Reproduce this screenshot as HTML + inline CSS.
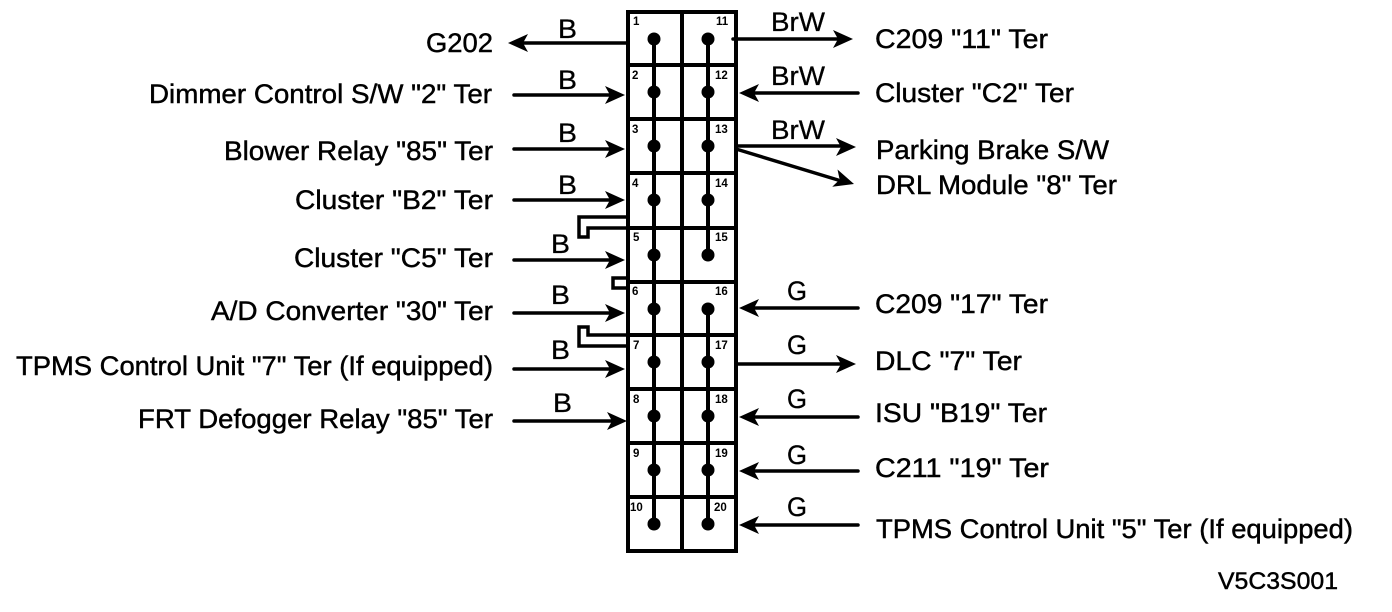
<!DOCTYPE html>
<html><head><meta charset="utf-8"><style>
html,body{margin:0;padding:0;background:#fff;width:1392px;height:612px;overflow:hidden}
svg{display:block}
text{font-family:"Liberation Sans",sans-serif;fill:#000}
.l{font-size:27px;stroke:#000;stroke-width:.45px}
.n{font-size:11.5px;font-weight:bold}
.c{font-size:27px;stroke:#000;stroke-width:.3px}
</style></head><body>
<svg width="1392" height="612" viewBox="0 0 1392 612" xmlns="http://www.w3.org/2000/svg">
<defs>
<path id="ar" d="M0 0L-20 -9L-15 0L-20 9Z" fill="#000"/>
</defs>
<g stroke="#000" fill="none">
<rect x="628" y="12" width="108" height="539" stroke-width="4"/>
<path stroke-width="4" d="M682 12V553M628 65H736M628 119H736M628 173H736M628 228H736M628 282H736M628 335H736M628 389H736M628 443H736M628 497H736"/>
<path stroke-width="4" d="M654 39V524M708 39V255M708 309V524"/>
<path stroke-width="3.5" d="M627 217H579V237H588V228H627M627 278H613V288H627M627 346H579V327H588V335H627"/>
<g stroke-width="3.5" stroke-linecap="round">
<path d="M627 43H520M514 95H615M514 149H615M514 200H615M514 260H615M514 313H615M514 369H615M514 421H617"/>
<path d="M733 39H843M858 93H750M736 146H845M736 149L838 180M858 308H750M736 364H845M858 417H750M858 471H750M858 525H750"/>
</g>
</g>
<g fill="#000">
<circle cx="654" cy="39" r="6.5"/><circle cx="654" cy="92" r="6.5"/><circle cx="654" cy="146" r="6.5"/><circle cx="654" cy="200" r="6.5"/><circle cx="654" cy="255" r="6.5"/><circle cx="654" cy="309" r="6.5"/><circle cx="654" cy="362" r="6.5"/><circle cx="654" cy="416" r="6.5"/><circle cx="654" cy="470" r="6.5"/><circle cx="654" cy="524" r="6.5"/>
<circle cx="708" cy="39" r="6.5"/><circle cx="708" cy="92" r="6.5"/><circle cx="708" cy="146" r="6.5"/><circle cx="708" cy="200" r="6.5"/><circle cx="708" cy="255" r="6.5"/><circle cx="708" cy="309" r="6.5"/><circle cx="708" cy="362" r="6.5"/><circle cx="708" cy="416" r="6.5"/><circle cx="708" cy="470" r="6.5"/><circle cx="708" cy="524" r="6.5"/>
</g>
<use href="#ar" transform="translate(508,43) rotate(180)"/>
<use href="#ar" transform="translate(625,95)"/>
<use href="#ar" transform="translate(625,149)"/>
<use href="#ar" transform="translate(625,200)"/>
<use href="#ar" transform="translate(625,260)"/>
<use href="#ar" transform="translate(625,313)"/>
<use href="#ar" transform="translate(625,369)"/>
<use href="#ar" transform="translate(627,421)"/>
<use href="#ar" transform="translate(853,39)"/>
<use href="#ar" transform="translate(739,93) rotate(180)"/>
<use href="#ar" transform="translate(856,147)"/>
<use href="#ar" transform="translate(854,184) rotate(17)"/>
<use href="#ar" transform="translate(739,308) rotate(180)"/>
<use href="#ar" transform="translate(856,364)"/>
<use href="#ar" transform="translate(739,417) rotate(180)"/>
<use href="#ar" transform="translate(739,471) rotate(180)"/>
<use href="#ar" transform="translate(739,525) rotate(180)"/>
<g class="n">
<text class="n" x="633" y="25">1</text><text class="n" x="632" y="79">2</text><text class="n" x="632" y="133">3</text><text class="n" x="632" y="187">4</text><text class="n" x="633" y="241">5</text><text class="n" x="632" y="295">6</text><text class="n" x="633" y="349">7</text><text class="n" x="633" y="403">8</text><text class="n" x="633" y="457">9</text><text class="n" x="630" y="511">10</text>
<text class="n" x="716" y="25">11</text><text class="n" x="715" y="79">12</text><text class="n" x="715" y="133">13</text><text class="n" x="715" y="187">14</text><text class="n" x="715" y="241">15</text><text class="n" x="715" y="295">16</text><text class="n" x="715" y="349">17</text><text class="n" x="715" y="403">18</text><text class="n" x="715" y="457">19</text><text class="n" x="714" y="511">20</text>
</g>
<g class="c">
<text class="c" x="558" y="38" textLength="19" lengthAdjust="spacingAndGlyphs">B</text>
<text class="c" x="558" y="89" textLength="19" lengthAdjust="spacingAndGlyphs">B</text>
<text class="c" x="558" y="142" textLength="19" lengthAdjust="spacingAndGlyphs">B</text>
<text class="c" x="558" y="194" textLength="19" lengthAdjust="spacingAndGlyphs">B</text>
<text class="c" x="551" y="253" textLength="19" lengthAdjust="spacingAndGlyphs">B</text>
<text class="c" x="551" y="304" textLength="19" lengthAdjust="spacingAndGlyphs">B</text>
<text class="c" x="551" y="359" textLength="19" lengthAdjust="spacingAndGlyphs">B</text>
<text class="c" x="553" y="412" textLength="19" lengthAdjust="spacingAndGlyphs">B</text>
<text class="c" x="771" y="31" textLength="54" lengthAdjust="spacingAndGlyphs">BrW</text>
<text class="c" x="771" y="85" textLength="54" lengthAdjust="spacingAndGlyphs">BrW</text>
<text class="c" x="771" y="139" textLength="54" lengthAdjust="spacingAndGlyphs">BrW</text>
<text class="c" x="787" y="300" textLength="20" lengthAdjust="spacingAndGlyphs">G</text>
<text class="c" x="787" y="354" textLength="20" lengthAdjust="spacingAndGlyphs">G</text>
<text class="c" x="787" y="408" textLength="20" lengthAdjust="spacingAndGlyphs">G</text>
<text class="c" x="787" y="464" textLength="20" lengthAdjust="spacingAndGlyphs">G</text>
<text class="c" x="787" y="516" textLength="20" lengthAdjust="spacingAndGlyphs">G</text>
</g>
<g class="l">
<text class="l" x="426" y="52" textLength="67" lengthAdjust="spacingAndGlyphs">G202</text>
<text class="l" x="149" y="103" textLength="343" lengthAdjust="spacingAndGlyphs">Dimmer Control S/W "2" Ter</text>
<text class="l" x="224" y="160" textLength="269" lengthAdjust="spacingAndGlyphs">Blower Relay "85" Ter</text>
<text class="l" x="295" y="209" textLength="198" lengthAdjust="spacingAndGlyphs">Cluster "B2" Ter</text>
<text class="l" x="294" y="267" textLength="199" lengthAdjust="spacingAndGlyphs">Cluster "C5" Ter</text>
<text class="l" x="211" y="320" textLength="282" lengthAdjust="spacingAndGlyphs">A/D Converter "30" Ter</text>
<text class="l" x="16" y="375" textLength="477" lengthAdjust="spacingAndGlyphs">TPMS Control Unit "7" Ter (If equipped)</text>
<text class="l" x="138" y="428" textLength="355" lengthAdjust="spacingAndGlyphs">FRT Defogger Relay "85" Ter</text>
<text class="l" x="875" y="48" textLength="173" lengthAdjust="spacingAndGlyphs">C209 "11" Ter</text>
<text class="l" x="875" y="102" textLength="199" lengthAdjust="spacingAndGlyphs">Cluster "C2" Ter</text>
<text class="l" x="876" y="159" textLength="233" lengthAdjust="spacingAndGlyphs">Parking Brake S/W</text>
<text class="l" x="876" y="194" textLength="241" lengthAdjust="spacingAndGlyphs">DRL Module "8" Ter</text>
<text class="l" x="875" y="313" textLength="173" lengthAdjust="spacingAndGlyphs">C209 "17" Ter</text>
<text class="l" x="875" y="370" textLength="147" lengthAdjust="spacingAndGlyphs">DLC "7" Ter</text>
<text class="l" x="875" y="422" textLength="172" lengthAdjust="spacingAndGlyphs">ISU "B19" Ter</text>
<text class="l" x="875" y="477" textLength="174" lengthAdjust="spacingAndGlyphs">C211 "19" Ter</text>
<text class="l" x="876" y="538" textLength="477" lengthAdjust="spacingAndGlyphs">TPMS Control Unit "5" Ter (If equipped)</text>
<text class="l" x="1218" y="589" textLength="120" lengthAdjust="spacingAndGlyphs" style="font-size:24px">V5C3S001</text>
</g>
</svg>
</body></html>
